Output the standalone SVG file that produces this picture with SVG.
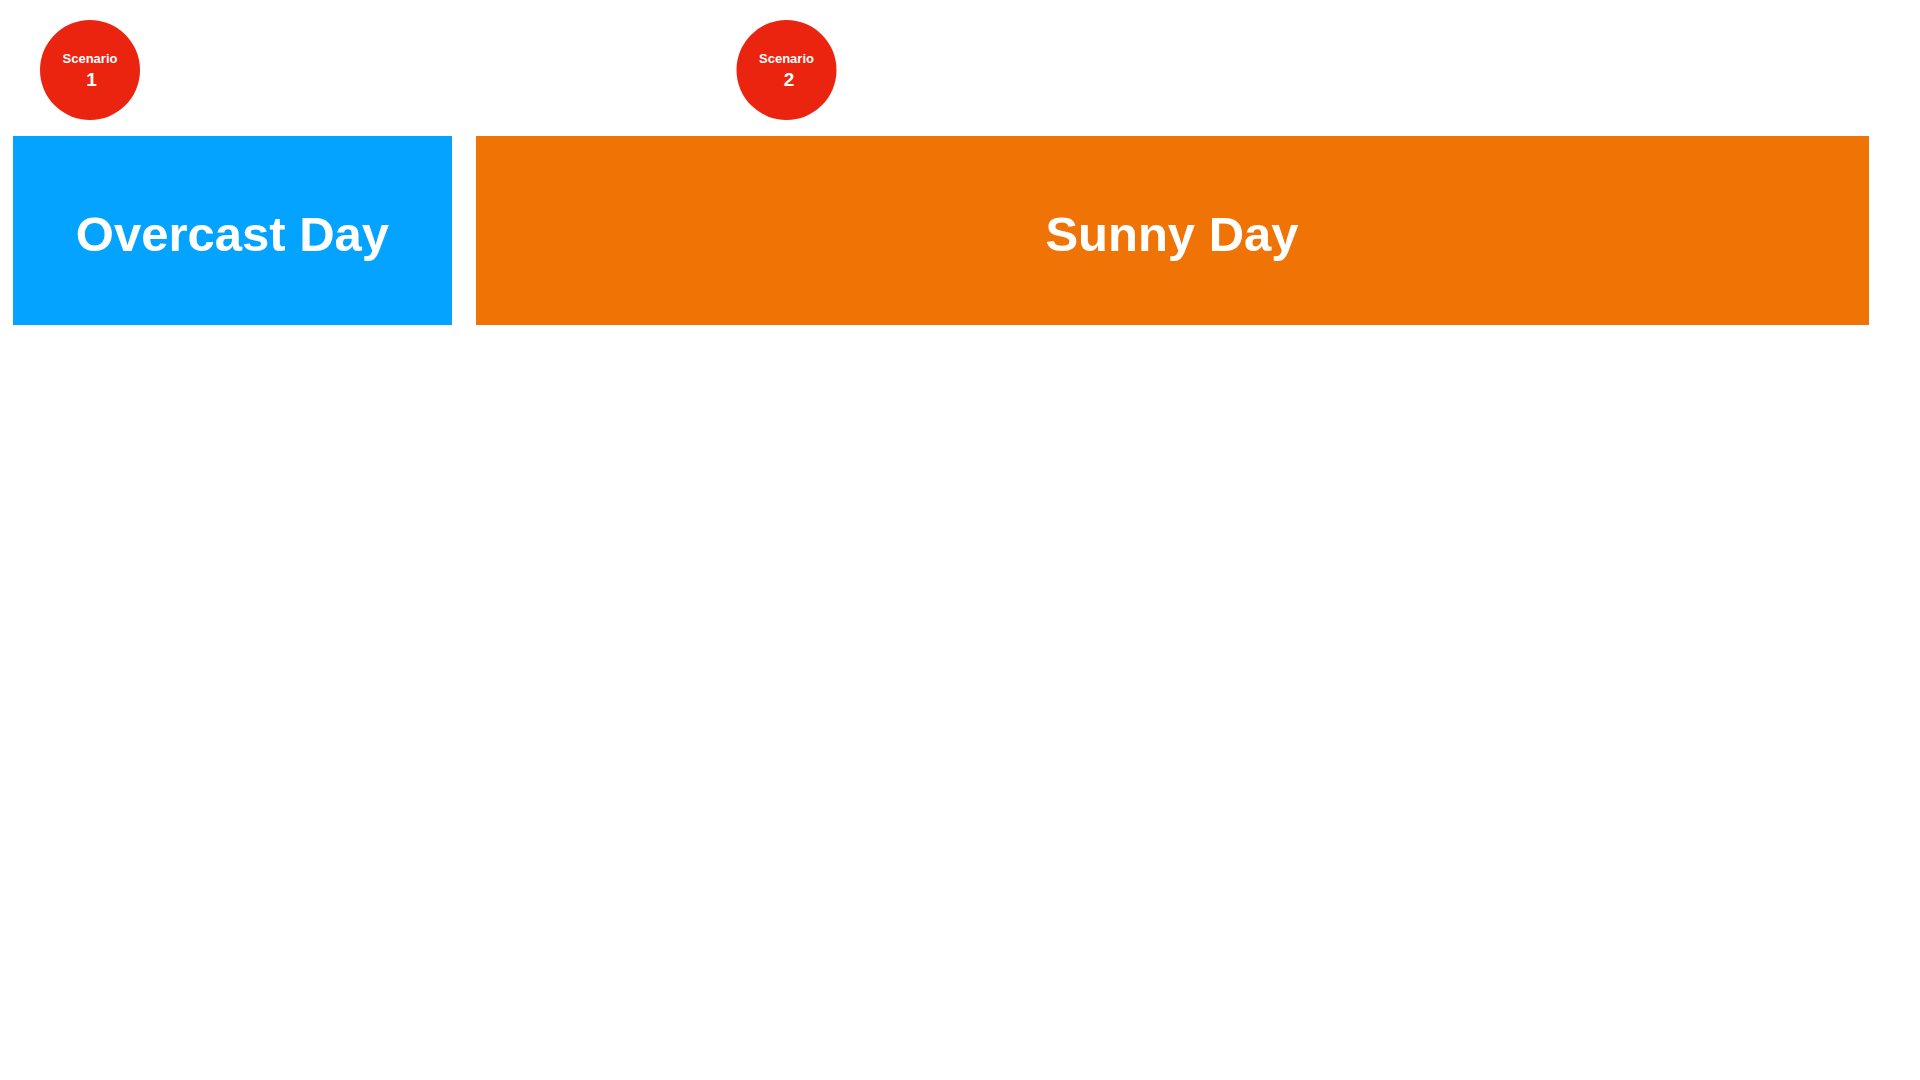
<svg xmlns="http://www.w3.org/2000/svg" width="1920" height="1080" viewBox="0 0 1920 1080">
<style>
.badge{fill:#EB2410}
.lbl{font-family:"Liberation Sans",Arial,sans-serif;font-weight:bold;fill:#FFFFFF;text-anchor:middle}
.small{font-size:13px}
.num{font-size:19px}
.big{font-size:49px}
</style>
<rect width="1920" height="1080" fill="#FFFFFF"/>
<g id="connectors"></g>
<g id="overcast">
<rect x="13" y="136" width="439" height="189" fill="#03A3FF"/>
<text class="lbl big" x="232.5" y="251">Overcast Day</text>
</g>
<g id="sunny">
<rect x="476" y="136" width="1393" height="189" fill="#F07306"/>
<text class="lbl big" x="1172" y="251">Sunny Day</text>
</g>
<g id="scenario1">
<circle class="badge" cx="90" cy="70" r="50"/>
<text class="lbl small" x="90" y="63">Scenario</text>
<text class="lbl num" x="91.5" y="86">1</text>
</g>
<g id="scenario2">
<circle class="badge" cx="786.5" cy="70" r="50"/>
<text class="lbl small" x="786.5" y="63">Scenario</text>
<text class="lbl num" x="789" y="86">2</text>
</g>
</svg>
